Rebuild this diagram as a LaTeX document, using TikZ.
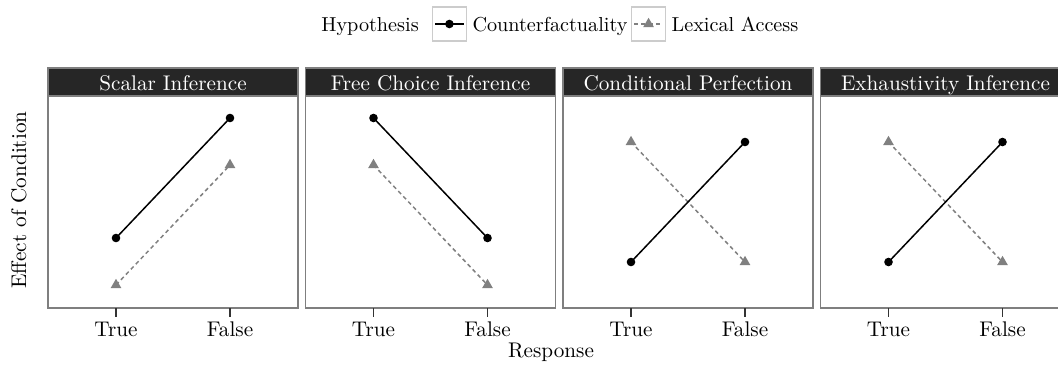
\documentclass[tikz,border=0pt]{standalone}
\usepackage{fontspec}
\usetikzlibrary{shapes.geometric}

\definecolor{stripgray}{HTML}{262626}
\definecolor{framegray}{HTML}{7F7F7F}
\definecolor{keygray}{HTML}{CCCCCC}
\definecolor{lexgray}{HTML}{808080}

\tikzset{
  panelframe/.style={draw=framegray, line width=0.7pt},
  stripbox/.style={fill=stripgray, draw=framegray, line width=0.7pt},
  striplabel/.style={text=white, anchor=base},
  cfline/.style={black, line width=0.75pt},
  laline/.style={lexgray, line width=0.75pt, dash pattern=on 2pt off 1.6pt},
  cfdot/.style={circle, fill=black, inner sep=0pt, minimum size=4.3pt},
  ladot/.style={regular polygon, regular polygon sides=3, fill=lexgray, inner sep=0pt, minimum size=6.2pt},
  tickmark/.style={draw=black!80, line width=0.75pt},
  ticklabel/.style={anchor=base},
  legendtext/.style={anchor=base west, inner sep=0pt, font=\fontsize{10.1}{12}\selectfont},
  keybox/.style={draw=keygray, fill=white, line width=0.7pt, inner sep=0pt, minimum size=17pt, anchor=west}
}

\begin{document}
\begin{tikzpicture}[x=0.5pt,y=-0.5pt,font=\fontsize{10.6}{12.7}\selectfont]
        % fix the page
        \useasboundingbox (0,0) rectangle (1058,364);
        \clip (0,0) rectangle (1058,364);

        % draw the legend
        \node[legendtext] (hyp) at (321,31) {Hypothesis};
        \node[keybox] (key1) at ([xshift=6.3pt,yshift=3.5pt]hyp.base east) {};
        \coordinate (key1a) at ([xshift=1.7pt]key1.west);
        \coordinate (key1b) at ([xshift=-1.7pt]key1.east);
        \draw[cfline] (key1a) -- (key1b);
        \node[cfdot] (key1dot) at (key1) {};
        \node[legendtext] (cflabel) at ([xshift=2.5pt,yshift=-3.5pt]key1.east) {Counterfactuality};
        \node[keybox] (key2) at ([xshift=1.5pt,yshift=3.5pt]cflabel.base east) {};
        \coordinate (key2a) at ([xshift=1.7pt]key2.west);
        \coordinate (key2b) at ([xshift=-1.7pt]key2.east);
        \draw[laline] (key2a) -- (key2b);
        \node[ladot] (key2dot) at (key2) {};
        \node[legendtext] (lalabel) at ([xshift=2.5pt,yshift=-3.5pt]key2.east) {Lexical Access};

        % draw the panels
        \foreach \i/\lft/\title/\ct/\cf/\lt/\lf in {
            1/48/Scalar Inference/238/118/285/165,
            2/305.5/Free Choice Inference/118/238/165/285,
            3/563/Conditional Perfection/262/142/142/262,
            4/820.5/Exhaustivity Inference/262/142/142/262}
        {
            \draw[panelframe] (\lft,96) rectangle ++(250,212);
            \draw[stripbox] (\lft,68) rectangle ++(250,28);
            \node[striplabel] (strip\i) at (\lft+125,90.5) {\title};

            % points for True and False
            \coordinate (ct\i) at (\lft+68,\ct);
            \coordinate (cf\i) at (\lft+182,\cf);
            \coordinate (lt\i) at (\lft+68,\lt);
            \coordinate (lf\i) at (\lft+182,\lf);
            \draw[laline] (lt\i) -- (lf\i);
            \draw[cfline] (ct\i) -- (cf\i);
            \node[ladot] (ltdot\i) at (lt\i) {};
            \node[ladot] (lfdot\i) at (lf\i) {};
            \node[cfdot] (ctdot\i) at (ct\i) {};
            \node[cfdot] (cfdot\i) at (cf\i) {};

            % ticks and tick labels
            \coordinate (tickt\i) at (\lft+68,308);
            \coordinate (tickf\i) at (\lft+182,308);
            \draw[tickmark] (tickt\i) -- ++(0,8.5);
            \draw[tickmark] (tickf\i) -- ++(0,8.5);
            \node[ticklabel] (true\i) at (\lft+68,336) {True};
            \node[ticklabel] (false\i) at (\lft+182,336) {False};
        }

        % axis titles
        \node[rotate=90] (ytitle) at (19,200) {Effect of Condition};
        \node[anchor=base] (xtitle) at (551,357) {Response};
\end{tikzpicture}
\end{document}
